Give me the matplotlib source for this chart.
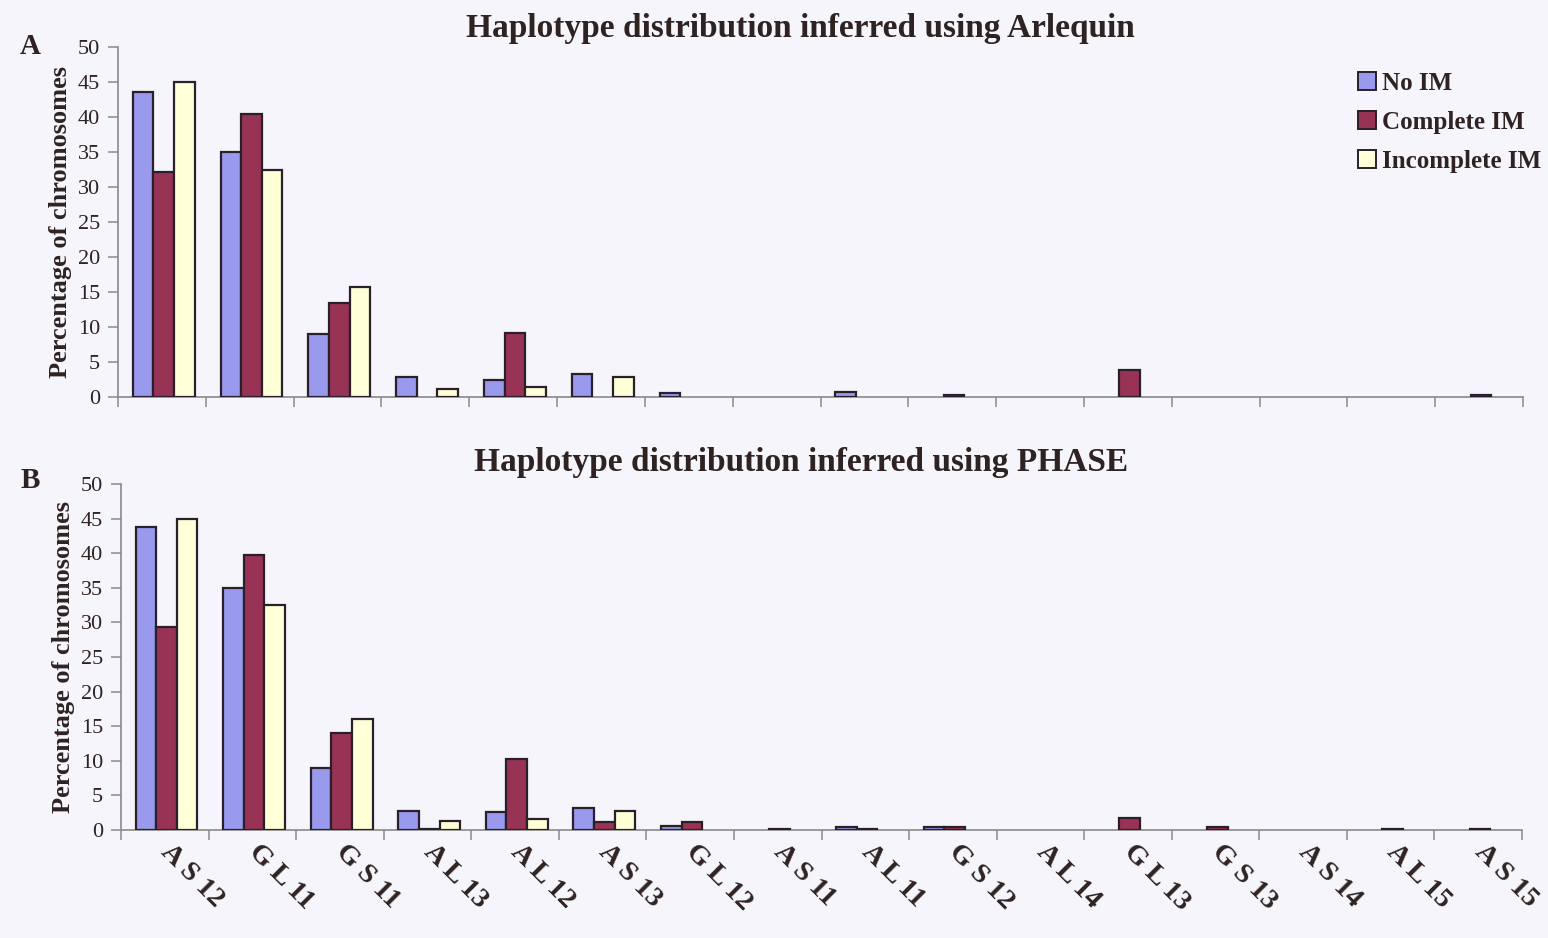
import numpy as np
import matplotlib
matplotlib.use("Agg")
import matplotlib.pyplot as plt
from matplotlib.patches import Patch

plt.rcParams['font.family'] = ['Liberation Serif', 'DejaVu Serif']

haplotypes = ["AS12", "GL11", "GS11", "AL13", "AL12", "AS13", "GL12", "AS11",
              "AL11", "GS12", "AL14", "GL13", "GS13", "AS14", "AL15", "AS15"]
series_names = ["No IM", "Complete IM", "Incomplete IM"]

# Panel A: Arlequin
arlequin_no_im = [43.6, 35.0, 9.0, 2.9, 2.4, 3.3, 0.6, 0, 0.7, 0, 0, 0, 0, 0, 0, 0]
arlequin_complete = [32.1, 40.4, 13.5, 0, 9.2, 0, 0, 0, 0, 0.3, 0, 3.8, 0, 0, 0, 0.3]
arlequin_incomplete = [45.0, 32.5, 15.7, 1.2, 1.4, 2.8, 0, 0, 0, 0, 0, 0, 0, 0, 0, 0]

# Panel B: PHASE
phase_no_im = [43.8, 35.0, 9.0, 2.7, 2.6, 3.2, 0.6, 0, 0.4, 0.4, 0, 0, 0, 0, 0, 0]
phase_complete = [29.4, 39.8, 14.0, 0.2, 10.2, 1.1, 1.1, 0.2, 0.2, 0.4, 0, 1.7, 0.4, 0, 0.2, 0.2]
phase_incomplete = [45.0, 32.5, 16.0, 1.3, 1.6, 2.8, 0, 0, 0, 0, 0, 0, 0, 0, 0, 0]

colors = ["#9999ee", "#993355", "#ffffd8"]
edge = "#2a1f2a"
text_col = "#2e2222"
axis_col = "#8a8a8a"
bg = "#f5f5fb"

fig = plt.figure(figsize=(15.48, 9.38), dpi=100, facecolor=bg)

ax_a = fig.add_axes([118 / 1548, 1 - 397 / 938, 1405 / 1548, 350 / 938])
ax_b = fig.add_axes([121 / 1548, 1 - 830 / 938, 1401 / 1548, 346 / 938])

x = np.arange(len(haplotypes))
w = 0.235
shift = 0.02


def draw_panel(ax, data):
    ax.set_facecolor("none")
    for i, (vals, col) in enumerate(zip(data, colors)):
        vals = np.asarray(vals, dtype=float)
        keep = vals > 0
        ax.bar(x[keep] + shift + (i - 1) * w, vals[keep], width=w, color=col,
               edgecolor=edge, linewidth=1.6, zorder=3)
    ax.set_xlim(-0.5, len(haplotypes) - 0.5)
    ax.set_ylim(0, 50)
    ax.set_yticks(np.arange(0, 51, 5))
    ax.set_xticks(np.arange(-0.5, len(haplotypes)))
    ax.set_xticklabels([])
    for s in ["top", "right"]:
        ax.spines[s].set_visible(False)
    for s in ["left", "bottom"]:
        ax.spines[s].set_color(axis_col)
        ax.spines[s].set_linewidth(1.2)
    ax.tick_params(axis="both", colors=axis_col, direction="out", length=7, width=1.1)
    ax.tick_params(axis="y", labelcolor=text_col, labelsize=16, pad=6)
    ax.set_ylabel("Percentage of chromosomes", fontsize=19, fontweight="bold",
                  color=text_col, labelpad=4)


draw_panel(ax_a, [arlequin_no_im, arlequin_complete, arlequin_incomplete])
draw_panel(ax_b, [phase_no_im, phase_complete, phase_incomplete])

fig.text(800 / 1548, 1 - 28 / 938, "Haplotype distribution inferred using Arlequin",
         ha="center", va="center", fontsize=24, fontweight="bold", color=text_col)
fig.text(801 / 1548, 1 - 462 / 938, "Haplotype distribution inferred using PHASE",
         ha="center", va="center", fontsize=24, fontweight="bold", color=text_col)
fig.text(30 / 1548, 1 - 47 / 938, "A", ha="center", va="center", fontsize=21,
         fontweight="bold", color=text_col)
fig.text(30 / 1548, 1 - 480 / 938, "B", ha="center", va="center", fontsize=21,
         fontweight="bold", color=text_col)

# Rotated category labels under panel B, letters spaced apart
for xi, lab in zip(x, haplotypes):
    shown = lab[0] + " " + lab[1] + " " + lab[2:]
    ax_b.text(xi + 0.1, -1.4, shown, rotation=-45, rotation_mode="anchor",
              ha="left", va="top", fontsize=20.5, fontweight="bold", color=text_col,
              transform=ax_b.transData, clip_on=False)

handles = [Patch(facecolor=c, edgecolor=edge, linewidth=1.4) for c in colors]
leg = ax_a.legend(handles, series_names, loc="upper left",
                  bbox_to_anchor=(1340 / 1548, 1 - 54 / 938),
                  bbox_transform=fig.transFigure, frameon=False,
                  prop={"size": 18, "weight": "bold"}, handlelength=0.75,
                  handleheight=0.75, handletextpad=0.25, labelspacing=0.65,
                  borderpad=0.2)
for t in leg.get_texts():
    t.set_color(text_col)

fig.savefig("out.png", dpi=100, facecolor=bg)
